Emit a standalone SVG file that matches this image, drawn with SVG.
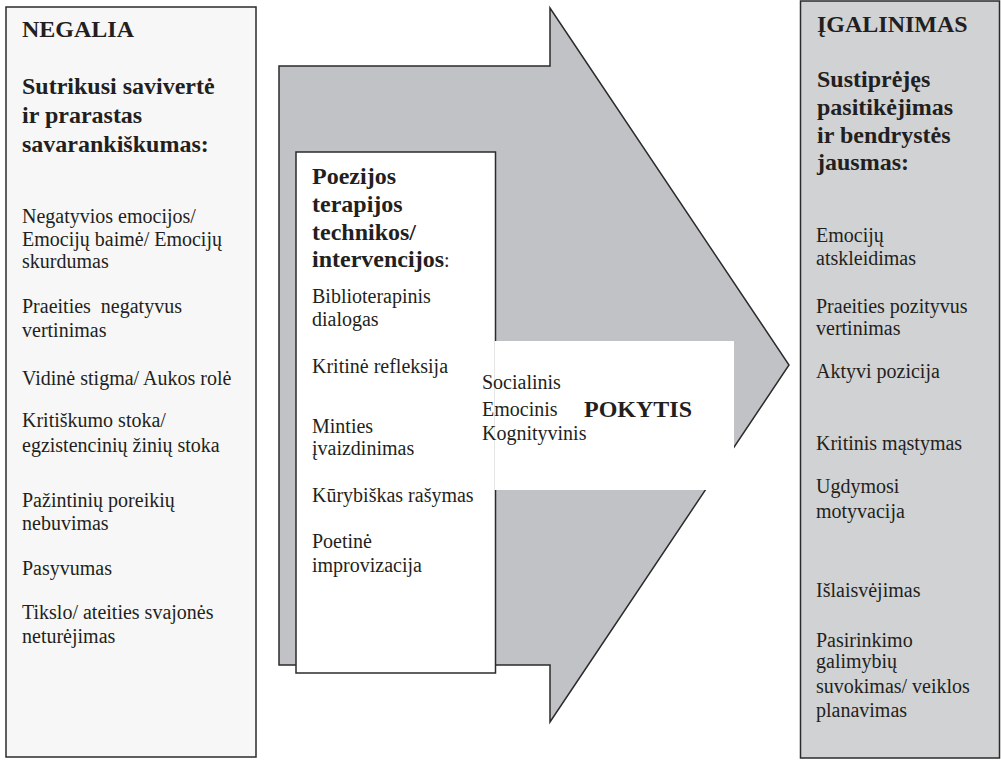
<svg xmlns="http://www.w3.org/2000/svg" width="1001" height="760" viewBox="0 0 1001 760">
  <style>
    .box { stroke: #2b2b2b; stroke-width: 1.5; }
    .t { font-family: "Liberation Serif", "Times New Roman", serif; font-size: 20px; fill: #231f20; }
    .b { font-family: "Liberation Serif", "Times New Roman", serif; font-size: 24px; font-weight: bold; fill: #231f20; }
  </style>
  <rect width="1001" height="760" fill="#ffffff"/>

  <!-- left column: starting state -->
  <g id="negalia">
    <rect class="box" x="6" y="7" width="250" height="750" fill="#f7f7f7"/>
    <text class="b" x="22" y="37">NEGALIA</text>
    <text class="b" x="22" y="94">Sutrikusi savivertė</text>
    <text class="b" x="22" y="123">ir prarastas</text>
    <text class="b" x="22" y="152">savarankiškumas:</text>
    <text class="t" x="22" y="223">Negatyvios emocijos/</text>
    <text class="t" x="22" y="246">Emocijų baimė/ Emocijų</text>
    <text class="t" x="22" y="268">skurdumas</text>
    <text class="t" x="22" y="313" xml:space="preserve">Praeities  negatyvus</text>
    <text class="t" x="22" y="337">vertinimas</text>
    <text class="t" x="22" y="385">Vidinė stigma/ Aukos rolė</text>
    <text class="t" x="22" y="427">Kritiškumo stoka/</text>
    <text class="t" x="22" y="452">egzistencinių žinių stoka</text>
    <text class="t" x="22" y="507">Pažintinių poreikių</text>
    <text class="t" x="22" y="530">nebuvimas</text>
    <text class="t" x="22" y="575">Pasyvumas</text>
    <text class="t" x="22" y="619">Tikslo/ ateities svajonės</text>
    <text class="t" x="22" y="643">neturėjimas</text>
  </g>

  <!-- large block arrow carrying the change -->
  <g id="arrow">
    <polygon class="box" points="279,66 550,66 550,8 789,365 550,722 550,665 279,665" fill="#c1c2c5"/>
  </g>

  <!-- techniques box inside the arrow -->
  <g id="technikos">
    <rect class="box" x="296" y="152" width="199.5" height="521" fill="#ffffff"/>
    <text class="b" x="312" y="184">Poezijos</text>
    <text class="b" x="312" y="212">terapijos</text>
    <text class="b" x="312" y="240">technikos/</text>
    <text class="b" x="312" y="267">intervencijos<tspan class="t" font-weight="normal" font-size="24px">:</tspan></text>
    <text class="t" x="312" y="303">Biblioterapinis</text>
    <text class="t" x="312" y="326">dialogas</text>
    <text class="t" x="312" y="373">Kritinė refleksija</text>
    <text class="t" x="312" y="433">Minties</text>
    <text class="t" x="312" y="455">įvaizdinimas</text>
    <text class="t" x="312" y="502">Kūrybiškas rašymas</text>
    <text class="t" x="312" y="548">Poetinė</text>
    <text class="t" x="312" y="572">improvizacija</text>
  </g>

  <!-- change label panel -->
  <g id="pokytis">
    <rect x="494.5" y="341" width="239.5" height="149" fill="#ffffff"/>
    <text class="t" x="482" y="389">Socialinis</text>
    <text class="t" x="482" y="416">Emocinis</text>
    <text class="t" x="482" y="440">Kognityvinis</text>
    <text class="b" x="584" y="417">POKYTIS</text>
  </g>

  <!-- right column: resulting state -->
  <g id="igalinimas">
    <rect class="box" x="800.5" y="1" width="199" height="757" fill="#d1d2d4"/>
    <text class="b" x="817" y="32">ĮGALINIMAS</text>
    <text class="b" x="817" y="87">Sustiprėjęs</text>
    <text class="b" x="817" y="115">pasitikėjimas</text>
    <text class="b" x="817" y="143">ir bendrystės</text>
    <text class="b" x="817" y="170">jausmas:</text>
    <text class="t" x="816" y="242">Emocijų</text>
    <text class="t" x="816" y="265">atskleidimas</text>
    <text class="t" x="816" y="313">Praeities pozityvus</text>
    <text class="t" x="816" y="335">vertinimas</text>
    <text class="t" x="816" y="378">Aktyvi pozicija</text>
    <text class="t" x="816" y="450">Kritinis mąstymas</text>
    <text class="t" x="816" y="493">Ugdymosi</text>
    <text class="t" x="816" y="518">motyvacija</text>
    <text class="t" x="816" y="597">Išlaisvėjimas</text>
    <text class="t" x="816" y="647">Pasirinkimo</text>
    <text class="t" x="816" y="668">galimybių</text>
    <text class="t" x="816" y="693">suvokimas/ veiklos</text>
    <text class="t" x="816" y="717">planavimas</text>
  </g>
</svg>
